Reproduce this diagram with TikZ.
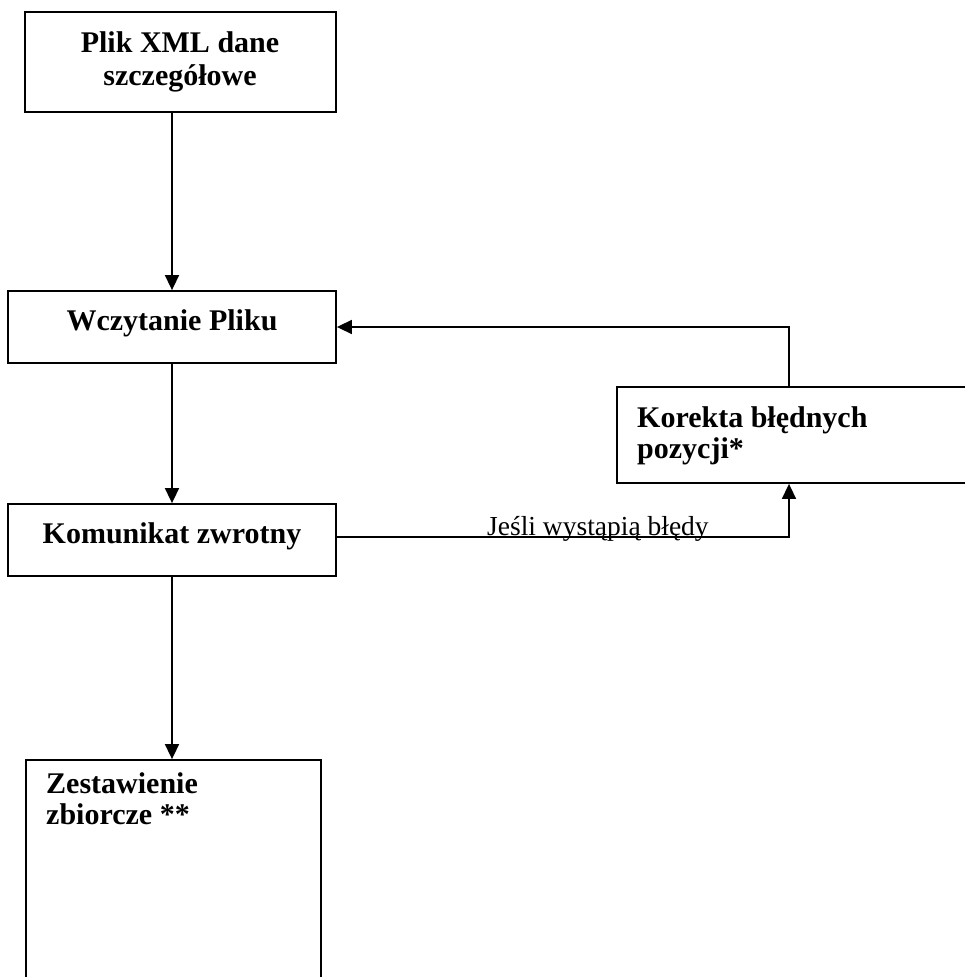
\documentclass[tikz,border=0pt]{standalone}
\usepackage{fontspec}
\setmainfont{Liberation Serif}
\usetikzlibrary{arrows.meta}
\tikzset{
  box/.style={draw, line width=1.8pt, inner sep=0pt, fill=none},
  btxt/.style={inner sep=0pt, font=\fontsize{30}{33}\selectfont\bfseries},
  lbl/.style={inner sep=0pt, font=\fontsize{27.5}{32}\selectfont},
  conn/.style={line width=1.6pt},
  arr/.style={conn, -{Triangle[length=15pt,width=14pt]}}
}
\begin{document}
\begin{tikzpicture}[x=1pt,y=-1pt]
\useasboundingbox (0,0) rectangle (965,977);
% boxes
\node[box, minimum width=311pt, minimum height=100pt] (plik) at (180.5,62) {};
\node[box, minimum width=328pt, minimum height=72pt] (wczyt) at (172,327) {};
\node[box, minimum width=328pt, minimum height=72pt] (kom) at (172,540) {};
\node[box, minimum width=400pt, minimum height=96pt] (kor) at (817,435) {};
\node[box, minimum width=295pt, minimum height=260pt] (zest) at (173.5,890) {};
% texts
\node[btxt, anchor=base] (plikA) at (180,52) {Plik XML dane};
\node[btxt, anchor=base] (plikB) at (180,85) {szczegółowe};
\node[btxt, anchor=base] (wczytT) at (172,330) {Wczytanie Pliku};
\node[btxt, anchor=base] (komT) at (172,543) {Komunikat zwrotny};
\node[btxt, anchor=base west] (korA) at (637,427) {Korekta błędnych};
\node[btxt, anchor=base west] (korB) at (637,458) {pozycji*};
\node[btxt, anchor=base west] (zestA) at (46,793) {Zestawienie};
\node[btxt, anchor=base west] (zestB) at (46,824) {zbiorcze **};
% connectors
\draw[arr] (plik.south -| wczyt.north) -- (wczyt.north);
\draw[arr] (wczyt.south) -- (kom.north);
\draw[arr] (kom.south) -- (kom.south |- zest.north);
\coordinate (k1) at (789,537);
\draw[arr] (kom.east |- k1) -- (k1) -- (k1 |- kor.south);
\coordinate (k2) at (789,327);
\draw[arr] (k2 |- kor.north) -- (k2) -- (wczyt.east |- k2);
\node[lbl, anchor=base west] (jesli) at (487,535) {Jeśli wystąpią błędy};
\end{tikzpicture}
\end{document}
